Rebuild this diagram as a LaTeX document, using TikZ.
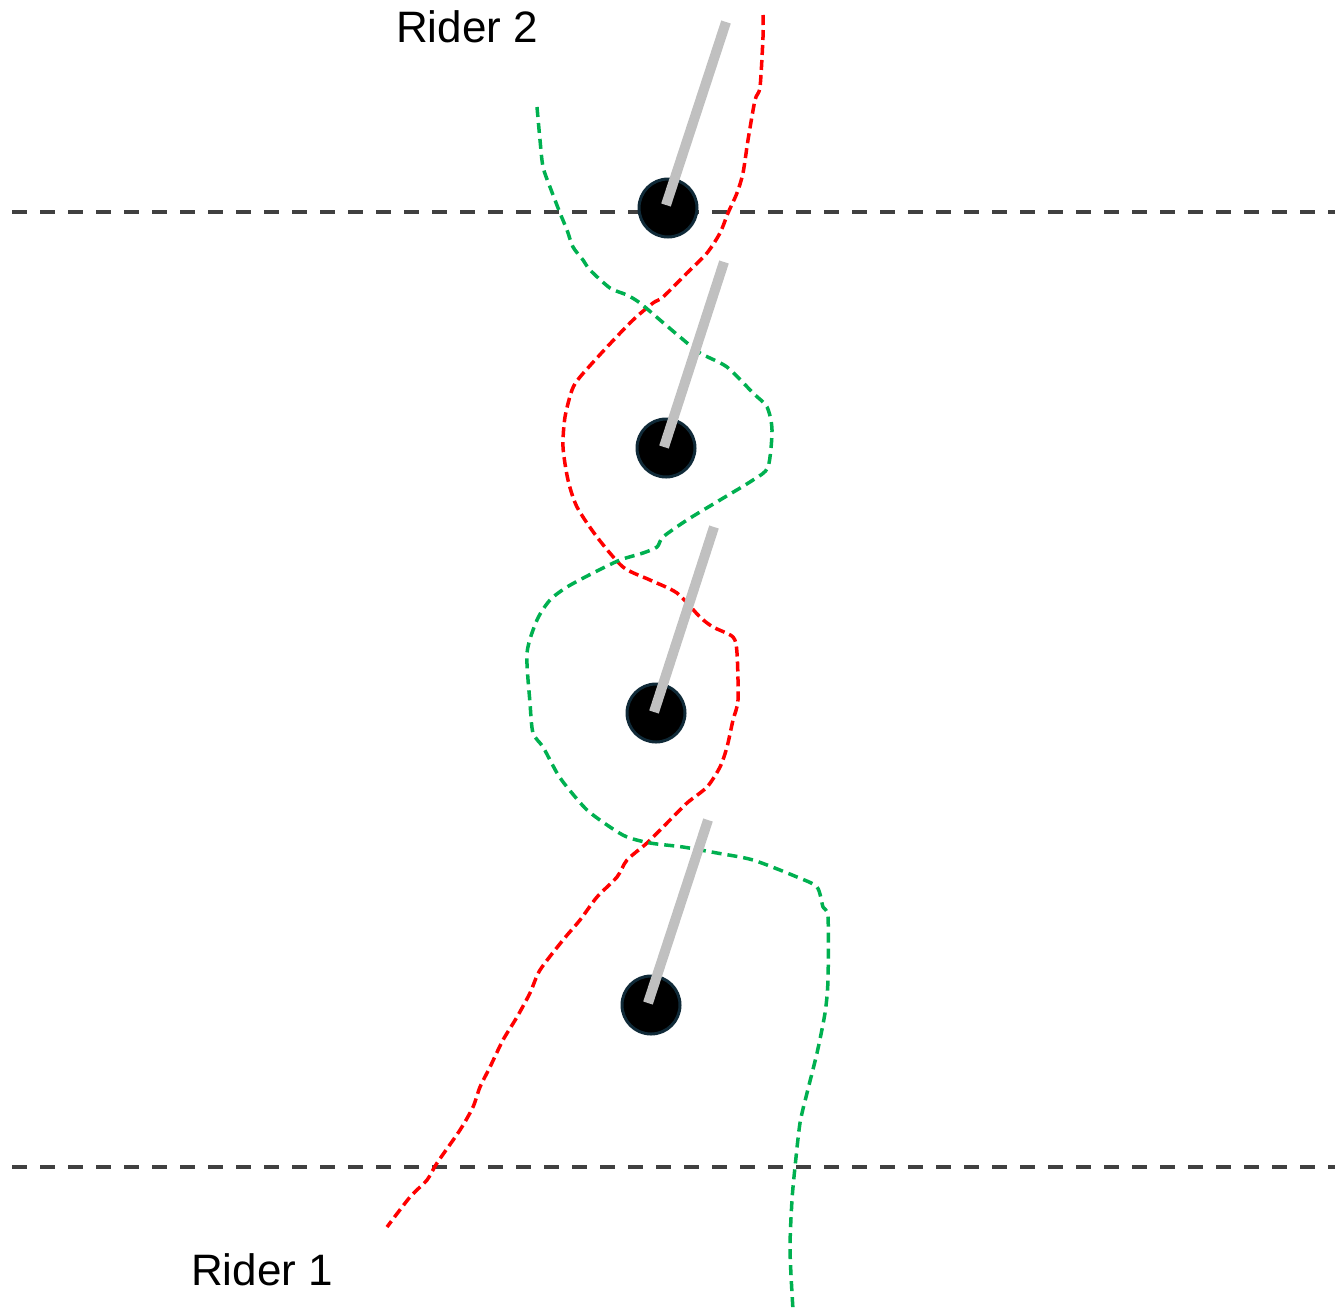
\documentclass[tikz,border=0pt]{standalone}
\usepackage{fontspec}
\setmainfont{Liberation Sans}
\definecolor{riderred}{RGB}{255,0,0}
\definecolor{ridergreen}{RGB}{0,176,80}
\definecolor{guide}{RGB}{64,64,64}
\definecolor{polegray}{RGB}{192,192,192}
\definecolor{ballrim}{RGB}{16,42,56}
\tikzset{
  guideline/.style={draw=guide, line width=3.5pt, dash pattern=on 15pt off 13pt},
  redtrack/.style={draw=riderred, line width=3.5pt, dash pattern=on 10pt off 5pt},
  greentrack/.style={draw=ridergreen, line width=3.5pt, dash pattern=on 10pt off 6pt},
  ball/.style={circle, fill=black, draw=ballrim, line width=3pt, minimum size=58pt, inner sep=0pt},
  pole/.style={draw=polegray, line width=10pt},
  label/.style={font=\fontsize{44}{50}\selectfont, inner sep=0pt, anchor=base}
}
\begin{document}
\begin{tikzpicture}[x=1pt,y=-1pt]
\useasboundingbox (0,0) rectangle (1335,1310);
% guide lines
\coordinate (g1a) at (12,212);
\coordinate (g1b) at (1335,212);
\coordinate (g2a) at (12,1167);
\coordinate (g2b) at (1335,1167);
\draw[guideline] (g1a) -- (g1b);
\draw[guideline] (g2a) -- (g2b);
% red track (Rider 1)
\draw[redtrack] plot[smooth, tension=0.45] coordinates {
(763,15) (763,37) (760,87) (755,100) (748,140) (743,173) (737,193) (728,213)
(720,233) (707,253) (687,273) (663,297) (653,303) (633,320) (607,347) (580,377)
(572,390) (565,417) (563,447) (568,480) (577,507) (597,537) (623,567) (650,580)
(677,593) (700,617) (713,627) (733,637) (737,653) (738,700) (733,720) (727,747)
(720,767) (707,787) (687,803) (667,823) (647,843) (627,860) (617,877) (597,897)
(580,920) (563,940) (540,970) (530,993) (517,1017) (503,1040) (490,1067)
(480,1087) (473,1107) (460,1130) (437,1163) (427,1180) (410,1197) (387,1227)};
% green track (Rider 2)
\draw[greentrack] plot[smooth, tension=0.45] coordinates {
(537,107) (540,140) (543,167) (550,187) (560,213) (567,230) (573,247) (583,260)
(590,270) (610,288) (627,295) (640,303) (660,320) (680,337) (700,353) (727,367)
(753,393) (767,407) (772,430) (768,467) (753,480) (720,500) (687,520) (663,537)
(657,547) (643,553) (620,560) (593,573) (567,587) (550,600) (537,620) (527,653)
(530,703) (533,733) (543,747) (557,773) (567,787) (587,810) (610,827) (627,837)
(650,843) (683,847) (717,853) (753,860) (797,877) (817,887) (823,907) (828,917)
(828,980) (825,1013) (817,1053) (807,1093) (800,1123) (795,1167) (792,1200)
(790,1250) (793,1310)};
% balls
\node[ball] (b1) at (668,208) {};
\node[ball] (b2) at (666,448) {};
\node[ball] (b3) at (656,713) {};
\node[ball] (b4) at (651,1005) {};
% poles
\coordinate (p1) at (726,22);
\coordinate (p2) at (724,262);
\coordinate (p3) at (714,527);
\coordinate (p4) at (708,820);
\draw[pole] ([shift={(-2,-3)}]b1.center) -- (p1);
\draw[pole] ([shift={(-2,-1)}]b2.center) -- (p2);
\draw[pole] ([shift={(-2,-1)}]b3.center) -- (p3);
\draw[pole] ([shift={(-3,-2)}]b4.center) -- (p4);
% labels
\node[label] (r2) at (467,42) {Rider 2};
\node[label] (r1) at (262,1285) {Rider 1};
\end{tikzpicture}
\end{document}
